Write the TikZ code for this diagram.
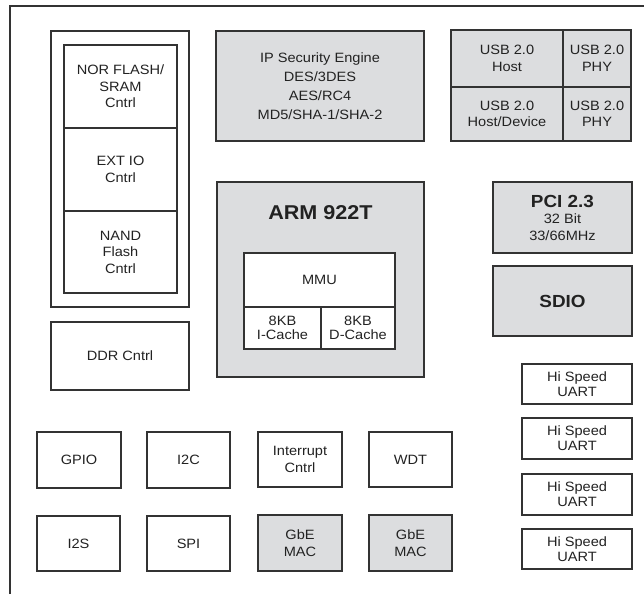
\documentclass[tikz,border=0pt]{standalone}
\usepackage{fontspec}
\setmainfont[FakeStretch=1.08]{Liberation Sans}
\definecolor{boxgray}{HTML}{DCDDDF}
\definecolor{linecol}{HTML}{333333}
\definecolor{txtcol}{HTML}{222222}
\begin{document}
\begin{tikzpicture}[x=1pt,y=-1pt,
  blk/.style={draw=linecol,line width=1.3pt,inner sep=0pt,align=center,text=txtcol,
    font=\fontsize{13.5}{16.5}\selectfont},
  wbox/.style={blk,fill=white},
  gbox/.style={blk,fill=boxgray},
  sz/.style n args={2}{minimum width=#1pt,minimum height=#2pt}]
\useasboundingbox (0,0) rectangle (644,594);
% outer frame (top and left edges)
\draw[linecol,line width=1.3pt] (10,594) -- (10,6) -- (644,6);
% memory controller group
\node[wbox,sz={138}{276}] (flashgrp) at (120,169) {};
\node[wbox,sz={113}{83}] (nor) at (120.5,86.5) {NOR FLASH/\\SRAM\\Cntrl};
\node[wbox,sz={113}{83}] (ext) at (120.5,169.5) {EXT IO\\Cntrl};
\node[wbox,sz={113}{82}] (nand) at (120.5,252) {NAND\\Flash\\Cntrl};
% IP security
\node[gbox,sz={208}{110},font=\fontsize{13.5}{19}\selectfont] (ip) at (320,86)
  {IP Security Engine\\DES/3DES\\AES/RC4\\MD5/SHA-1/SHA-2};
% USB
\node[gbox,sz={112}{57}] (usbh) at (507,58.5) {USB 2.0\\Host};
\node[gbox,sz={68}{57}] (phy1) at (597,58.5) {USB 2.0\\PHY};
\node[gbox,sz={112}{54}] (usbhd) at (507,114) {USB 2.0\\Host/Device};
\node[gbox,sz={68}{54}] (phy2) at (597,114) {USB 2.0\\PHY};
% ARM core
\node[gbox,sz={207}{195}] (arm) at (320.5,279.5) {};
\node[text=txtcol,inner sep=0pt,font=\fontsize{20}{24}\selectfont\bfseries] (armt) at (320.5,213) {ARM 922T};
\node[wbox,sz={151}{54}] (mmu) at (319.5,280) {MMU};
\node[wbox,sz={77}{42},font=\fontsize{13.5}{13.5}\selectfont] (icache) at (282.5,328) {8KB\\I-Cache};
\node[wbox,sz={74}{42},font=\fontsize{13.5}{13.5}\selectfont] (dcache) at (358,328) {8KB\\D-Cache};
% PCI and SDIO
\node[gbox,sz={139}{71}] (pci) at (562.5,217.5)
  {{\fontsize{17.5}{21}\selectfont\bfseries PCI 2.3}\\32 Bit\\33/66MHz};
\node[gbox,sz={139}{70},font=\fontsize{17.5}{20}\selectfont\bfseries] (sdio) at (562.5,301) {SDIO};
% DDR
\node[wbox,sz={138}{68}] (ddr) at (120,356) {DDR Cntrl};
% peripherals
\node[wbox,sz={84}{56}] (gpio) at (79,460) {GPIO};
\node[wbox,sz={83}{56}] (i2c) at (188.5,460) {I2C};
\node[wbox,sz={84}{55}] (intr) at (300,459.5) {Interrupt\\Cntrl};
\node[wbox,sz={83}{55}] (wdt) at (410.5,459.5) {WDT};
\node[wbox,sz={83}{55}] (i2s) at (78.5,543.5) {I2S};
\node[wbox,sz={83}{55}] (spi) at (188.5,543.5) {SPI};
\node[gbox,sz={84}{56}] (gbe1) at (300,543) {GbE\\MAC};
\node[gbox,sz={83}{56}] (gbe2) at (410.5,543) {GbE\\MAC};
% UARTs
\node[wbox,sz={110}{40},font=\fontsize{13.5}{15}\selectfont] (uart1) at (577,384) {Hi Speed\\UART};
\node[wbox,sz={110}{41},font=\fontsize{13.5}{15}\selectfont] (uart2) at (577,438.5) {Hi Speed\\UART};
\node[wbox,sz={110}{41},font=\fontsize{13.5}{15}\selectfont] (uart3) at (577,494.5) {Hi Speed\\UART};
\node[wbox,sz={110}{40},font=\fontsize{13.5}{15}\selectfont] (uart4) at (577,549) {Hi Speed\\UART};
\end{tikzpicture}
\end{document}
